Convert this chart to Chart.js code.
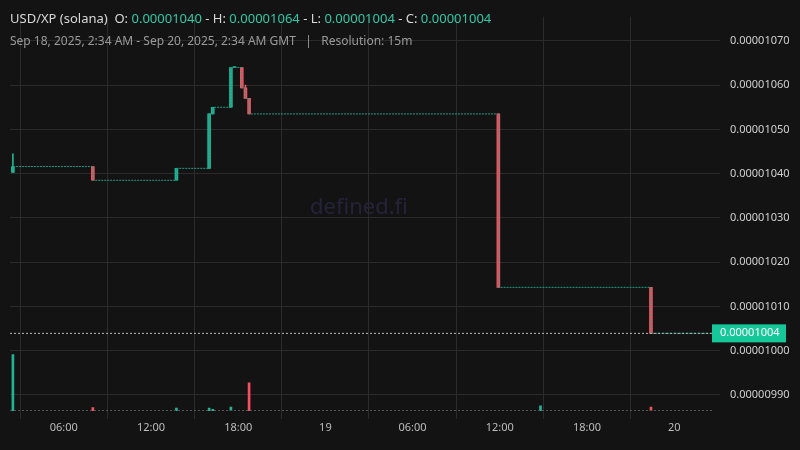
<!DOCTYPE html>
<html><head><meta charset="utf-8">
<script src="https://cdn.jsdelivr.net/npm/chart.js@4/dist/chart.umd.min.js"></script>
<style>
body{margin:0;background:#131313;font-family:"Noto Sans",sans-serif;}
#wrap{position:relative;width:800px;height:450px;}
#title{position:absolute;left:10px;top:9px;font-size:13px;color:#d8d8d8;}
#title span{color:#2fc9a4;}
#sub{position:absolute;left:10px;top:32px;font-size:12px;color:#9a9a9a;}
#wm{position:absolute;left:310px;top:190px;font-size:22px;color:#25233a;}
</style></head><body>
<div id="wrap">
<canvas id="c" width="800" height="450"></canvas>
<div id="wm">defined.fi</div>
<div id="title">USD/XP (solana) &nbsp;O: <span>0.00001040</span> - H: <span>0.00001064</span> - L: <span>0.00001004</span> - C: <span>0.00001004</span></div>
<div id="sub">Sep 18, 2025, 2:34 AM - Sep 20, 2025, 2:34 AM GMT &nbsp;&nbsp;| &nbsp;&nbsp;Resolution: 15m</div>
</div>
<script>
// hours since Sep 18 00:00, prices in units of 1e-8
const times  = [2.5, 8.0, 13.75, 16.0, 16.25, 17.5, 17.75, 18.25, 18.5, 18.75, 35.9, 46.4];
const opens  = [1040.3, 1041.6, 1038.5, 1041.2, 1053.5, 1055.0, 1064.0, 1064.0, 1059.4, 1057.0, 1053.5, 1014.3];
const highs  = [1044.5, 1041.6, 1041.2, 1053.5, 1055.0, 1064.0, 1064.0, 1064.0, 1060.0, 1057.0, 1053.5, 1014.3];
const lows   = [1040.3, 1038.5, 1038.5, 1041.2, 1053.5, 1055.0, 1064.0, 1059.4, 1057.0, 1053.5, 1014.3, 1003.9];
const closes = [1041.6, 1038.5, 1041.2, 1053.5, 1055.0, 1064.0, 1064.0, 1059.4, 1057.0, 1053.5, 1014.3, 1003.9];
const volTimes = [2.5, 8.0, 13.75, 16.0, 16.25, 17.5, 18.75, 38.8, 46.4];
const volumes  = [100, 6, 5, 5, 3, 7, 50, 9, 7];
const volUp    = [true, false, true, true, true, true, false, true, false];
const endTime = 50.6;
const lastPrice = 1003.9;
const priceTicks = [990, 1000, 1010, 1020, 1030, 1040, 1050, 1060, 1070];
const timeTicks = [6, 12, 18, 24, 30, 36, 42, 48];
const timeLabels = ['06:00', '12:00', '18:00', '19', '06:00', '12:00', '18:00', '20'];

const GREEN = '#22b394', RED = '#f5515f';
const colors = times.map((t, i) => closes[i] >= opens[i] ? GREEN : RED);

// flat stretches between candles drawn as stepped close line
const flat = times.map((t, i) => ({x: t, y: closes[i]}));
flat.push({x: endTime, y: lastPrice});

const priceLine = {
  id: 'priceLine',
  afterDraw(chart) {
    const {ctx, chartArea: a, scales: {y}} = chart;
    const py = y.getPixelForValue(lastPrice);
    ctx.save();
    ctx.strokeStyle = '#bbbbbb'; ctx.setLineDash([2, 2]); ctx.lineWidth = 1;
    ctx.beginPath(); ctx.moveTo(a.left, py); ctx.lineTo(a.right, py); ctx.stroke();
    ctx.strokeStyle = '#555555';
    ctx.beginPath(); ctx.moveTo(a.left, a.bottom - 0.5); ctx.lineTo(a.right, a.bottom - 0.5); ctx.stroke();
    ctx.setLineDash([]);
    ctx.fillStyle = '#16c79a';
    ctx.fillRect(a.right, py - 9, 74, 18);
    ctx.fillStyle = '#ffffff'; ctx.font = '11px "Noto Sans"'; ctx.textBaseline = 'middle';
    ctx.fillText((lastPrice * 1e-8 + 1e-12).toFixed(8), a.right + 8, py);
    ctx.restore();
  }
};

new Chart(document.getElementById('c'), {
  type: 'bar',
  data: {
    datasets: [
      {type: 'line', data: flat, stepped: 'before', borderColor: '#1f9c86', borderWidth: 1,
       borderDash: [2, 1], pointRadius: 0, xAxisID: 'x', yAxisID: 'y'},
      {data: times.map((t, i) => ({x: t, y: [lows[i], highs[i]]})), backgroundColor: colors,
       barThickness: 1, grouped: false, yAxisID: 'y'},
      {data: times.map((t, i) => ({x: t, y: [opens[i], closes[i]]})), backgroundColor: colors,
       barThickness: 3, minBarLength: 1, grouped: false, yAxisID: 'y'},
      {data: volTimes.map((t, i) => ({x: t, y: volumes[i]})),
       backgroundColor: volUp.map(u => u ? GREEN : RED), barThickness: 2, grouped: false, yAxisID: 'v'}
    ]
  },
  options: {
    responsive: false, animation: false,
    layout: {padding: {top: 0, right: 0, left: 10, bottom: 0}},
    plugins: {legend: {display: false}, tooltip: {enabled: false}},
    scales: {
      x: {type: 'linear', min: 2.3, max: 50.6, offset: false,
          grid: {color: '#2b2b2b'}, border: {display: false},
          afterFit: s => { s.height = 39; },
          afterBuildTicks: s => { s.ticks = timeTicks.map(v => ({value: v})); },
          ticks: {color: '#bdbdbd', font: {size: 11, family: 'Noto Sans'}, padding: 2,
                  callback: (v) => timeLabels[timeTicks.indexOf(v)]}},
      y: {position: 'right', min: 986.35, max: 1075.5,
          grid: {color: '#2b2b2b'}, border: {display: false},
          afterBuildTicks: s => { s.ticks = priceTicks.map(v => ({value: v})); },
          afterFit: s => { s.width = 88; },
          ticks: {color: '#d0d0d0', font: {size: 11, family: 'Noto Sans'}, padding: 10,
                  callback: v => (v * 1e-8 + 1e-12).toFixed(8)}},
      v: {display: false, min: 0, max: 700}
    }
  },
  plugins: [priceLine]
});
</script>
</body></html>
